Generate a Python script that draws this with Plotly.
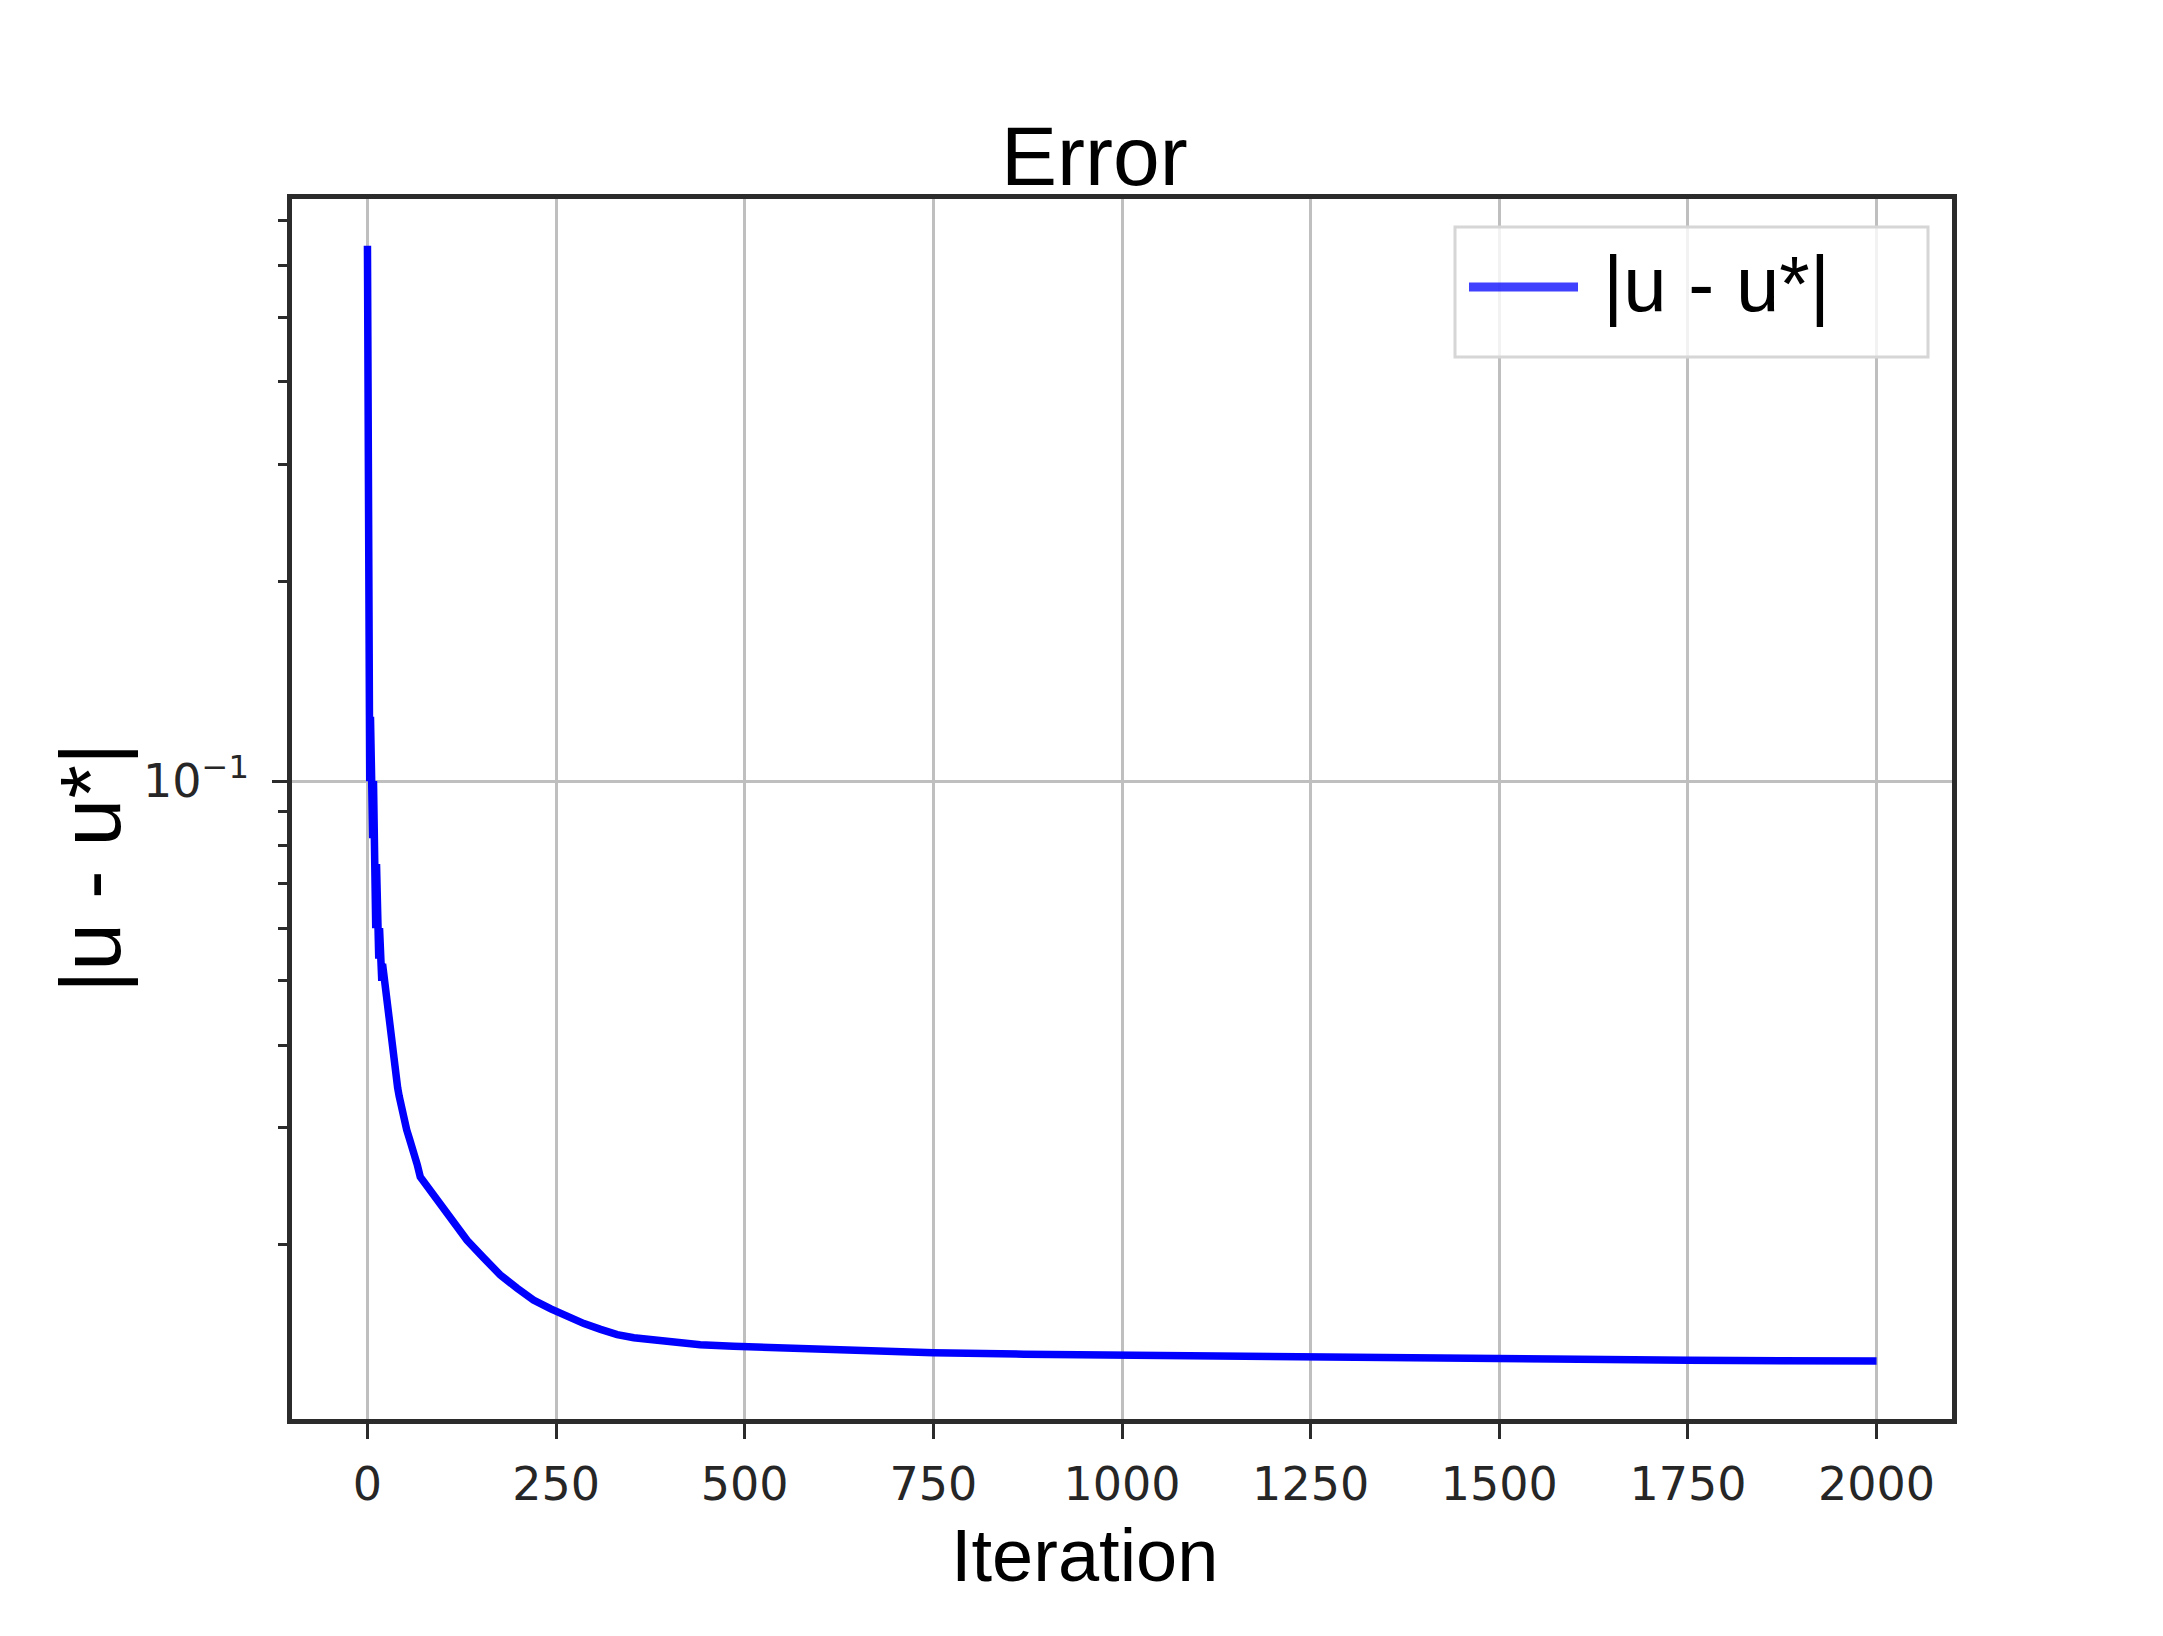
import plotly.graph_objects as go

# error per iteration
iterations = [0, 1, 2, 3, 4, 5, 6, 7, 8, 9, 10, 11, 12, 13, 14, 15, 16, 17, 18, 19, 20,
              22, 24, 26, 28, 30, 32, 34, 36, 38, 40, 42, 44, 48, 52, 56, 60, 66, 70, 79,
              88, 97, 110, 132, 154, 176, 198, 220, 243, 265, 287, 309, 331, 353, 397,
              441, 485, 574, 660, 750, 870, 1000, 1250, 1500, 1750, 2000]
error = [0.642, 0.141, 0.168, 0.100, 0.125, 0.089, 0.112, 0.082, 0.100, 0.076, 0.090,
         0.060, 0.075, 0.057, 0.066, 0.054, 0.060, 0.052, 0.056, 0.050, 0.053,
         0.0505, 0.048, 0.046, 0.0445, 0.0435, 0.040, 0.038, 0.0365, 0.035, 0.0345,
         0.0335, 0.0325, 0.031, 0.0298, 0.0288, 0.0275, 0.0264, 0.0253, 0.0245,
         0.0235, 0.0228, 0.0218, 0.0203, 0.0191, 0.0180, 0.0172, 0.0165, 0.0160,
         0.01555, 0.0152, 0.0149, 0.01463, 0.01447, 0.01425, 0.01412, 0.01405,
         0.01392, 0.01382, 0.01374, 0.01367, 0.01362, 0.01350, 0.01343, 0.01338,
         0.01335]

x_ticks = [0, 250, 500, 750, 1000, 1250, 1500, 1750, 2000]
y_major = [0.1]
y_major_text = ["10<sup>\u22121</sup>"]
y_minor = [0.02, 0.03, 0.04, 0.05, 0.06, 0.07, 0.08, 0.09, 0.2, 0.3, 0.4, 0.5, 0.6, 0.7]

# page is drawn with the 8px body margin of the html page
OFF = 8
W, H = 2163 - OFF, 1636 - OFF
L, R, T, B = 292, 1952, 199, 1419  # plot area in page pixels


def px(x):
    return (x - L) / (R - L)


def py(y):
    return (B - y) / (B - T)


SANS = "Liberation Sans, Arial, sans-serif"
TICKFONT = "DejaVu Sans"
AX = "#2b2b2b"

fig = go.Figure()
fig.add_trace(go.Scatter(
    x=iterations, y=error, mode="lines", name="|u - u*|",
    line=dict(color="rgb(0,0,255)", width=7.5), showlegend=False,
))

fig.update_layout(
    width=W, height=H,
    paper_bgcolor="white", plot_bgcolor="white",
    margin=dict(l=L - OFF, r=W - (R - OFF), t=T - OFF, b=H - (B - OFF), pad=0),
    showlegend=False,
)

fig.update_xaxes(
    range=[-100, 2100], tickvals=x_ticks, ticks="outside", ticklen=15, tickwidth=3,
    tickcolor=AX, showgrid=True, gridcolor="#bfbfbf", gridwidth=3, zeroline=False,
    showline=True, linecolor=AX, linewidth=4.5, mirror=True,
    tickfont=dict(family=TICKFONT, size=46, color="#262626"), ticklabelstandoff=6,
)
fig.update_yaxes(
    type="log", range=[-1.962, -0.122], tickmode="array", tickvals=y_major,
    ticktext=y_major_text, ticks="outside", ticklen=15, tickwidth=3, tickcolor=AX,
    showgrid=True, gridcolor="#bfbfbf", gridwidth=3, zeroline=False,
    showline=True, linecolor=AX, linewidth=4.5, mirror=True,
    tickfont=dict(family=TICKFONT, size=46, color="#262626"), ticklabelstandoff=14,
    minor=dict(tickmode="array", tickvals=y_minor, ticks="outside", ticklen=9,
               tickwidth=2.5, tickcolor=AX, showgrid=False),
)

# title and axis labels
fig.add_annotation(text="Error", x=px(1094), y=py(156), xref="paper", yref="paper",
                   showarrow=False, font=dict(family=SANS, size=84, color="black"),
                   xanchor="center", yanchor="middle")
fig.add_annotation(text="Iteration", x=px(1084), y=py(1555), xref="paper", yref="paper",
                   showarrow=False, font=dict(family=SANS, size=74, color="black"),
                   xanchor="center", yanchor="middle")
fig.add_annotation(text="|u - u*|", x=px(90), y=py(868), xref="paper", yref="paper",
                   showarrow=False, textangle=-90, font=dict(family=SANS, size=86, color="black"),
                   xanchor="center", yanchor="middle")

# legend drawn by hand so the sample line is as long as in the reference
fig.add_shape(type="rect", xref="paper", yref="paper",
              x0=px(1455), x1=px(1928), y0=py(357), y1=py(227),
              line=dict(color="#d6d6d6", width=3), fillcolor="rgba(255,255,255,0.8)")
fig.add_shape(type="line", xref="paper", yref="paper",
              x0=px(1469), x1=px(1578), y0=py(287), y1=py(287),
              line=dict(color="rgba(0,0,255,0.75)", width=9))
fig.add_annotation(text="|u - u*|", x=px(1601), y=py(284), xref="paper", yref="paper",
                   showarrow=False, font=dict(family=SANS, size=78, color="black"),
                   xanchor="left", yanchor="middle")

fig.write_html("out.html")
